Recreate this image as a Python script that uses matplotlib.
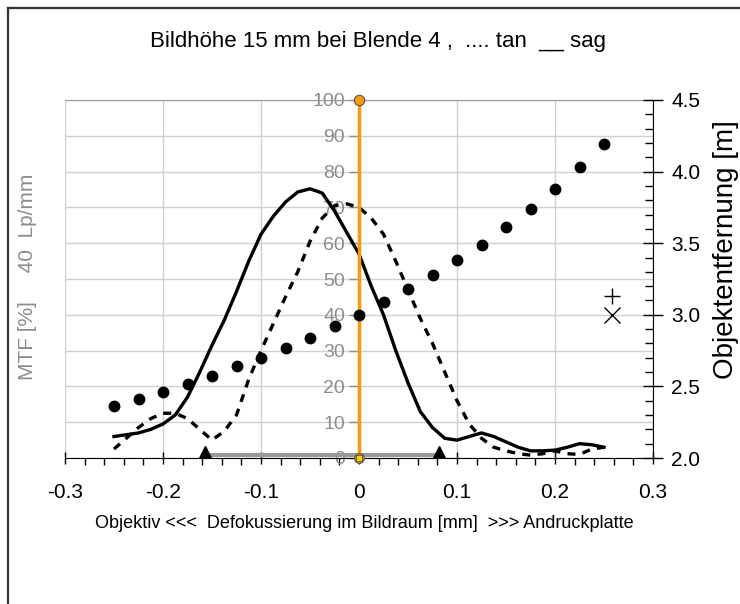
import numpy as np
import matplotlib
matplotlib.use("Agg")
import matplotlib.pyplot as plt
from matplotlib.ticker import MultipleLocator

plt.rcParams['font.family'] = ['Liberation Sans', 'DejaVu Sans']

# defocus positions [mm] for the MTF curves
x_mtf = [-0.25, -0.2375, -0.225, -0.2125, -0.2, -0.1875, -0.175, -0.1625, -0.15,
         -0.1375, -0.125, -0.1125, -0.1, -0.0875, -0.075, -0.0625, -0.05, -0.0375,
         -0.025, -0.0125, 0.0, 0.0125, 0.025, 0.0375, 0.05, 0.0625, 0.075, 0.0875,
         0.1, 0.1125, 0.125, 0.1375, 0.15, 0.1625, 0.175, 0.1875, 0.2, 0.2125,
         0.225, 0.2375, 0.25]
# sagittal MTF [%] (solid)
mtf_sag = [6, 6.5, 7, 8, 9.5, 12, 17, 24, 31.5, 38.5, 46.5, 55, 62.5, 67.5, 71.5, 74.3,
           75.2, 74, 69, 63, 57, 48, 40, 30, 21, 13, 8.5, 5.5, 5, 6, 7, 6, 4.5, 3,
           2, 2, 2.2, 3, 4, 3.7, 3]
# tangential MTF [%] (dashed)
mtf_tan = [2.5, 5.5, 8.5, 11, 12.5, 12.5, 11, 8, 5, 7.5, 12, 22, 30, 37.5, 45, 52,
           60.5, 67, 70.5, 71, 70, 67, 62.5, 55, 47, 39, 32, 24, 16, 9.5, 5.5, 3, 2,
           1.2, 0.8, 1.2, 2, 1.2, 1, 2.5, 3]

# object distance [m] vs defocus
x_dist = [-0.25, -0.225, -0.2, -0.175, -0.15, -0.125, -0.1, -0.075, -0.05, -0.025,
          0.0, 0.025, 0.05, 0.075, 0.1, 0.125, 0.15, 0.175, 0.2, 0.225, 0.25]
dist = [2.36, 2.41, 2.46, 2.52, 2.57, 2.64, 2.70, 2.77, 2.84, 2.92, 3.0, 3.09, 3.18,
        3.28, 3.38, 3.49, 3.61, 3.74, 3.88, 4.03, 4.19]

# depth of focus range (triangles)
dof_x = [-0.157, 0.082]
dof_y = [0.8, 0.8]

# focus marker line
focus_x = [0.0, 0.0]
focus_y = [0, 100]

# set distance markers
plus_pt = (0.258, 3.13)
cross_pt = (0.258, 3.0)

fig = plt.figure(figsize=(7.4, 6.04), dpi=100)
ax = fig.add_axes([65 / 740, 1 - 458 / 604, 588 / 740, 358 / 604])
ax2 = ax.twinx()

gray = '#8c8c8c'
grid_c = '#d0d0d0'

# grid
for gx in np.arange(-0.3, 0.31, 0.1):
    if abs(gx) > 1e-9:
        ax.axvline(gx, color=grid_c, lw=1, zorder=0)
ax.yaxis.grid(True, color=grid_c, lw=1, zorder=0)
ax.set_axisbelow(True)

ax.plot(x_mtf, mtf_sag, color='black', lw=2.4, zorder=3)
ax.plot(x_mtf, mtf_tan, color='black', lw=2.4, ls=(0, (2.4, 2.2)), zorder=3)

ax.plot(dof_x, dof_y, color='#999999', lw=3, zorder=3, solid_capstyle='butt')
ax.plot(dof_x, dof_y, ls='none', marker='^', ms=13, color='black', zorder=4)

ax.plot(focus_x, focus_y, color='#ff9900', lw=2.5, zorder=5)
ax.plot([0], [100], marker='o', ms=7.5, mfc='#ff9900', mec='#555555', mew=0.8,
        zorder=6, clip_on=False)
ax.plot([0], [0], marker='o', ms=7, mfc='#ff9900', mec='#555555', mew=0.8,
        zorder=6, clip_on=False)
ax.plot([0], [0], marker='s', ms=4.5, mfc='#ffcc00', mec='#555555', mew=0.6,
        zorder=7, clip_on=False)

ax.set_xlim(-0.3, 0.3)
ax.set_ylim(0, 100)

ax.spines['left'].set_position(('data', 0))
ax.spines['left'].set_color(gray)
ax.spines['top'].set_color('#999999')
ax.spines['right'].set_visible(False)
ax.spines['bottom'].set_color('black')

ax.yaxis.set_major_locator(MultipleLocator(10))
ax.tick_params(axis='y', colors=gray, labelsize=14, length=7, width=1, pad=3)

ax.xaxis.set_minor_locator(MultipleLocator(0.02))
ax.tick_params(axis='x', which='major', direction='inout', length=8, width=1,
               labelsize=15, pad=14)
ax.tick_params(axis='x', which='minor', direction='out', length=5, width=1)
ax.set_xticks(np.round(np.arange(-0.3, 0.31, 0.1), 1))
ax.set_xticklabels(['-0.3', '-0.2', '-0.1', '0', '0.1', '0.2', '0.3'])

# object distance on the right axis
ax2.plot(x_dist, dist, ls='none', marker='o', ms=7.5, color='black', zorder=3)
ax2.plot([plus_pt[0]], [plus_pt[1]], marker='+', ms=11, mew=1, color='black')
ax2.plot([cross_pt[0]], [cross_pt[1]], marker='x', ms=12, mew=1, color='black')
ax2.set_ylim(2.0, 4.5)
ax2.yaxis.set_major_locator(MultipleLocator(0.5))
ax2.yaxis.set_minor_locator(MultipleLocator(0.1))
ax2.yaxis.set_major_formatter(matplotlib.ticker.FormatStrFormatter('%.1f'))
ax2.tick_params(axis='y', which='major', direction='inout', length=14, width=1,
                labelsize=15, pad=6)
ax2.tick_params(axis='y', which='minor', direction='in', length=6, width=1)
for s in ['left', 'top', 'bottom']:
    ax2.spines[s].set_visible(False)
ax2.spines['right'].set_color('black')

fig.text(378 / 740, 1 - 41 / 604, 'Bildhöhe 15 mm bei Blende 4 ,  .... tan  __ sag',
         ha='center', va='center', fontsize=16)
fig.text(364 / 740, 1 - 523 / 604,
         'Objektiv <<<  Defokussierung im Bildraum [mm]  >>> Andruckplatte',
         ha='center', va='center', fontsize=13)
fig.text(726 / 740, 1 - 250 / 604, 'Objektentfernung [m]', rotation=90,
         ha='center', va='center', fontsize=20)
fig.text(28 / 740, 1 - 277 / 604, 'MTF [%]     40  Lp/mm', rotation=90,
         ha='center', va='center', fontsize=15, color=gray)

# chart frame (only top and left edges visible)
fig.add_artist(plt.Line2D([8 / 740, 8 / 740], [0, 1 - 8 / 604], color='#333333',
                          lw=1.6, transform=fig.transFigure))
fig.add_artist(plt.Line2D([8 / 740, 1], [1 - 8 / 604, 1 - 8 / 604], color='#333333',
                          lw=1.6, transform=fig.transFigure))

fig.savefig('out.png', dpi=100)
